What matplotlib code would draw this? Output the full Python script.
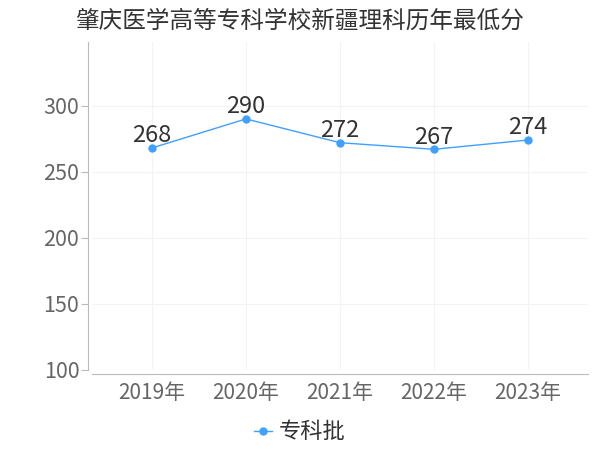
import matplotlib

matplotlib.use("Agg")

import matplotlib.pyplot as plt

plt.rcParams["font.family"] = ["Noto Sans CJK SC", "DejaVu Sans"]

TITLE = "肇庆医学高等专科学校新疆理科历年最低分"
YEARS = ["2019年", "2020年", "2021年", "2022年", "2023年"]
SCORES = [268, 290, 272, 267, 274]
SERIES = "专科批"
Y_TICKS = [100, 150, 200, 250, 300]

LINE = "#40A0FF"
TEXT = "#333333"
MUTED = "#666666"
AXIS = "#BBBBBB"
GRID = "#F3F3F3"

fig = plt.figure(figsize=(6, 4.5), dpi=100)
ax = fig.add_axes([0.153, 0.178, 0.827, 0.728])

x = list(range(len(YEARS)))
ax.plot(x, SCORES, color=LINE, linewidth=1.0, marker="o", markersize=5, label=SERIES)
for xi, v in zip(x, SCORES):
    ax.text(xi, v + 0.5, str(v), ha="center", va="bottom", fontsize=17, color=TEXT)

ax.set_xlim(-0.64, 4.64)
ax.set_ylim(100, 348)
ax.set_xticks(x)
ax.set_xticklabels(YEARS)
ax.set_yticks(Y_TICKS)
ax.tick_params(axis="y", colors=MUTED, labelsize=15.5, length=5, color=AXIS, pad=1)
ax.tick_params(axis="x", colors=MUTED, labelsize=15, length=0, pad=6)
ax.grid(True, color=GRID, linewidth=0.8)
ax.set_axisbelow(True)

for side in ("top", "right"):
    ax.spines[side].set_visible(False)
ax.spines["left"].set_color(AXIS)
ax.spines["bottom"].set_color(AXIS)
ax.spines["left"].set_position(("outward", 3))
ax.spines["bottom"].set_position(("outward", 3))

fig.text(0.5, 0.953, TITLE, ha="center", va="center", fontsize=17, color=TEXT)

fig.legend(loc="center", bbox_to_anchor=(0.5, 0.04), frameon=False, fontsize=16,
           handlelength=0.8, handletextpad=0.3, labelcolor=TEXT)

fig.savefig("out.png", dpi=100, facecolor="white")
